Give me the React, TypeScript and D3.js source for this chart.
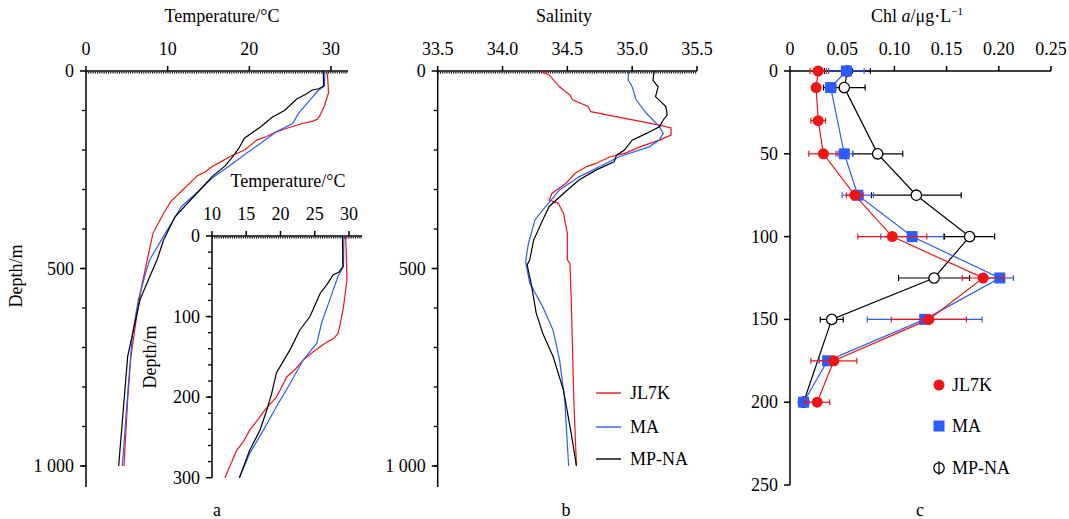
import React from "react";
import * as d3 from "d3";

// ---------- Data ----------
const seriesNames = ["JL7K", "MA", "MP-NA"];
const seriesColors = ["#f01414", "#2a5cff", "#000000"];

// Temperature profiles: [depth m, temperature °C]
const tempJL7K: [number, number][] = [
  [0, 29.5], [20, 29.6], [55, 29.7], [88, 29.2], [110, 28.7], [121, 28.4], [127, 27.8],
  [133, 26.5], [145, 24.6], [154, 23.3], [166, 22.1], [175, 20.9], [192, 19.9], [200, 19.4],
  [216, 17.7], [230, 16.5], [241, 15.5], [255, 14.6], [266, 13.6], [280, 12.9], [300, 11.9],
  [330, 10.4], [360, 9.5], [411, 8.2], [478, 7.5], [546, 6.8], [622, 6.2], [723, 5.5],
  [833, 5.1], [1000, 4.65],
];
const tempMA: [number, number][] = [
  [0, 29.25], [38, 29.2], [50, 28.4], [79, 27.2], [108, 26.0], [133, 25.3], [154, 23.3],
  [183, 21.4], [212, 19.4], [241, 17.5], [270, 15.5], [300, 14.0], [343, 11.7], [411, 9.7],
  [478, 7.8], [504, 7.4], [580, 6.4], [664, 5.7], [791, 5.2], [1000, 4.45],
];
const tempMPNA: [number, number][] = [
  [0, 29.05], [38, 29.1], [45, 28.5], [48, 27.7], [60, 26.8], [71, 25.8], [100, 24.3],
  [117, 22.8], [141, 21.4], [170, 19.4], [196, 18.7], [216, 18.0], [241, 17.0], [266, 15.5],
  [300, 14.0], [369, 10.9], [428, 9.5], [478, 8.7], [521, 7.8], [580, 6.6], [723, 5.1],
  [1000, 4.0],
];

// Salinity profiles: [depth m, salinity]
const salJL7K: [number, number][] = [
  [0, 34.29], [10, 34.36], [40, 34.44], [61, 34.52], [73, 34.54], [90, 34.66], [103, 34.68],
  [137, 35.21], [144, 35.3], [162, 35.3], [175, 35.21], [192, 35.06], [208, 34.95],
  [217, 34.83], [234, 34.72], [242, 34.65], [259, 34.56], [284, 34.49], [310, 34.38],
  [327, 34.36], [335, 34.43], [360, 34.47], [411, 34.5], [478, 34.5], [487, 34.52],
  [580, 34.53], [706, 34.54], [833, 34.55], [1000, 34.57],
];
const salMA: [number, number][] = [
  [0, 34.97], [23, 34.97], [40, 35.0], [73, 35.03], [107, 35.11], [141, 35.21], [158, 35.24],
  [175, 35.21], [192, 35.13], [217, 34.9], [242, 34.75], [268, 34.59], [301, 34.44],
  [352, 34.31], [377, 34.25], [436, 34.2], [478, 34.18], [487, 34.18], [537, 34.21],
  [597, 34.31], [656, 34.39], [732, 34.44], [833, 34.48], [1000, 34.51],
];
const salMPNA: [number, number][] = [
  [0, 35.17], [23, 35.16], [40, 35.2], [65, 35.18], [90, 35.26], [111, 35.27], [124, 35.24],
  [141, 35.21], [158, 35.11], [175, 35.0], [200, 34.94], [213, 34.88], [230, 34.86],
  [251, 34.72], [276, 34.59], [310, 34.47], [343, 34.36], [377, 34.31], [428, 34.24],
  [478, 34.21], [491, 34.19], [537, 34.22], [613, 34.26], [664, 34.31], [723, 34.39],
  [808, 34.47], [918, 34.53], [1000, 34.57],
];

// Chl a profiles
const chlDepthJL7K = [0, 10, 30, 50, 75, 100, 125, 150, 175, 200];
const chlJL7K = [0.027, 0.025, 0.027, 0.032, 0.062, 0.098, 0.185, 0.133, 0.042, 0.026];
const chlErrJL7K = [0.008, 0.003, 0.007, 0.014, 0.008, 0.033, 0.02, 0.036, 0.022, 0.012];
const chlDepthMA = [0, 10, 50, 75, 100, 125, 150, 175, 200];
const chlMA = [0.054, 0.039, 0.052, 0.065, 0.117, 0.201, 0.129, 0.036, 0.013];
const chlErrMA = [0.017, 0.005, 0.008, 0.015, 0.03, 0.013, 0.055, 0.008, 0.005];
const chlDepthMPNA = [0, 10, 50, 75, 100, 125, 150, 200];
const chlMPNA = [0.055, 0.052, 0.084, 0.121, 0.172, 0.138, 0.04, 0.013];
const chlErrMPNA = [0.022, 0.02, 0.024, 0.043, 0.024, 0.034, 0.011, 0.003];

const tempTicks = [0, 10, 20, 30];
const insetTempTicks = [10, 15, 20, 25, 30];
const salTicks = [33.5, 34.0, 34.5, 35.0, 35.5];
const chlTicks = [0, 0.05, 0.1, 0.15, 0.2, 0.25];
const depthTicks = [0, 500, 1000];
const insetDepthTicks = [0, 100, 200, 300];
const chlDepthTicks = [0, 50, 100, 150, 200, 250];

// ---------- Layout ----------
const W = 1069;
const H = 519;
const FONT = "'Liberation Serif', 'Times New Roman', serif";
const FS = 18;

const fmtDepth = (d: number) => (d >= 1000 ? "1 000" : String(d));

function TopAxis({ scale, ticks, y, x0, x1, fmt, dotted }: any) {
  return (
    <g>
      <line x1={x0} x2={x1} y1={y} y2={y} stroke="#000" strokeWidth={1.5} />
      {dotted && (
        <line x1={x0} x2={x1} y1={y + 1.6} y2={y + 1.6} stroke="#000" strokeWidth={1.6} strokeDasharray="1.1 1.1" />
      )}
      {ticks.map((t: number) => (
        <g key={t}>
          <line x1={scale(t)} x2={scale(t)} y1={y} y2={y - 5} stroke="#000" strokeWidth={1.5} />
          <text x={scale(t)} y={y - 16} textAnchor="middle" fontSize={FS} fontFamily={FONT}>
            {fmt(t)}
          </text>
        </g>
      ))}
    </g>
  );
}

function LeftAxis({ scale, ticks, minor, x, y0, y1, fmt }: any) {
  return (
    <g>
      <line x1={x} x2={x} y1={y0} y2={y1} stroke="#000" strokeWidth={1.5} />
      {minor.map((t: number) => (
        <line key={"m" + t} x1={x} x2={x - 4} y1={scale(t)} y2={scale(t)} stroke="#000" strokeWidth={1.3} />
      ))}
      {ticks.map((t: number) => (
        <g key={t}>
          <line x1={x} x2={x - 6} y1={scale(t)} y2={scale(t)} stroke="#000" strokeWidth={1.5} />
          <text x={x - 12} y={scale(t)} textAnchor="end" dominantBaseline="central" fontSize={FS} fontFamily={FONT}>
            {fmt(t)}
          </text>
        </g>
      ))}
    </g>
  );
}

export default function App() {
  // Panel a
  const xA = d3.scaleLinear().domain([0, 30]).range([86, 331]);
  const yA = d3.scaleLinear().domain([0, 1000]).range([71, 466]);
  // Inset
  const xI = d3.scaleLinear().domain([10, 30]).range([212, 349]);
  const yI = d3.scaleLinear().domain([0, 300]).range([236, 477.7]);
  // Panel b
  const xB = d3.scaleLinear().domain([33.5, 35.5]).range([437.7, 697]);
  const yB = yA;
  // Panel c
  const xC = d3.scaleLinear().domain([0, 0.25]).range([790, 1051]);
  const yC = d3.scaleLinear().domain([0, 250]).range([71, 485]);

  const temps = [tempJL7K, tempMA, tempMPNA];
  const sals = [salJL7K, salMA, salMPNA];

  const lineA = d3.line<[number, number]>().x((d) => xA(d[1])).y((d) => yA(d[0]));
  const lineI = d3.line<[number, number]>().x((d) => xI(d[1])).y((d) => yI(d[0]));
  const lineB = d3.line<[number, number]>().x((d) => xB(d[1])).y((d) => yB(d[0]));

  const minorA = d3.range(100, 1001, 100);
  const minorI = d3.range(20, 300, 20);

  const chlSets = [
    { depth: chlDepthMPNA, val: chlMPNA, err: chlErrMPNA, color: seriesColors[2], kind: "open" },
    { depth: chlDepthMA, val: chlMA, err: chlErrMA, color: seriesColors[1], kind: "square" },
    { depth: chlDepthJL7K, val: chlJL7K, err: chlErrJL7K, color: seriesColors[0], kind: "circle" },
  ];

  const marker = (kind: string, color: string, cx: number, cy: number, key?: any) => {
    if (kind === "circle") return <circle key={key} cx={cx} cy={cy} r={5.5} fill={color} />;
    if (kind === "square") return <rect key={key} x={cx - 5.5} y={cy - 5.5} width={11} height={11} fill={color} />;
    return <circle key={key} cx={cx} cy={cy} r={5.2} fill="#fff" stroke={color} strokeWidth={1.3} />;
  };

  const order = [0, 1, 2];

  return (
    <svg width={W} height={H} style={{ position: "absolute", left: 0, top: 0, background: "#fff" }} fontFamily={FONT}>
      <defs>
        <clipPath id="insetClip">
          <rect x={212} y={236} width={150} height={242} />
        </clipPath>
      </defs>

      {/* ---------- Panel a ---------- */}
      <text x={222} y={22} textAnchor="middle" fontSize={FS}>Temperature/°C</text>
      <TopAxis scale={xA} ticks={tempTicks} y={71} x0={86} x1={348} fmt={(t: number) => String(t)} dotted />
      <LeftAxis scale={yA} ticks={depthTicks} minor={minorA} x={86} y0={71} y1={487} fmt={fmtDepth} />
      <text transform="translate(22,276) rotate(-90)" textAnchor="middle" fontSize={FS}>Depth/m</text>
      {order.map((i) => (
        <path key={"ta" + i} d={lineA(temps[i]) || ""} fill="none" stroke={seriesColors[i]} strokeWidth={1.2} />
      ))}

      {/* inset */}
      <text x={288} y={187} textAnchor="middle" fontSize={FS}>Temperature/°C</text>
      <TopAxis scale={xI} ticks={insetTempTicks} y={236} x0={212} x1={362} fmt={(t: number) => String(t)} dotted />
      <LeftAxis scale={yI} ticks={insetDepthTicks} minor={minorI} x={212} y0={236} y1={478} fmt={fmtDepth} />
      <text transform="translate(156,357) rotate(-90)" textAnchor="middle" fontSize={FS}>Depth/m</text>
      <g clipPath="url(#insetClip)">
        {order.map((i) => (
          <path key={"ti" + i} d={lineI(temps[i].filter((d) => d[0] <= 330)) || ""} fill="none" stroke={seriesColors[i]} strokeWidth={1.2} />
        ))}
      </g>
      <text x={217} y={516} textAnchor="middle" fontSize={FS}>a</text>

      {/* ---------- Panel b ---------- */}
      <text x={564} y={22} textAnchor="middle" fontSize={FS}>Salinity</text>
      <TopAxis scale={xB} ticks={salTicks} y={71} x0={437.7} x1={697} fmt={d3.format(".1f")} dotted />
      <LeftAxis scale={yB} ticks={depthTicks} minor={minorA} x={437.7} y0={71} y1={487} fmt={fmtDepth} />
      {order.map((i) => (
        <path key={"sb" + i} d={lineB(sals[i]) || ""} fill="none" stroke={seriesColors[i]} strokeWidth={1.2} />
      ))}
      {seriesNames.map((n, i) => {
        const ly = [393, 427, 459][i];
        return (
          <g key={n}>
            <line x1={596} x2={621} y1={ly} y2={ly} stroke={seriesColors[i]} strokeWidth={1.4} />
            <text x={630} y={ly} dominantBaseline="central" fontSize={FS}>{n}</text>
          </g>
        );
      })}
      <text x={566} y={516} textAnchor="middle" fontSize={FS}>b</text>

      {/* ---------- Panel c ---------- */}
      <text x={917} y={22} textAnchor="middle" fontSize={FS}>
        Chl <tspan fontStyle="italic">a</tspan>/μg·L<tspan fontSize={11} dy={-7}>−1</tspan>
      </text>
      <TopAxis scale={xC} ticks={chlTicks} y={71} x0={790} x1={1051} fmt={(t: number) => (t === 0 ? "0" : d3.format(".2f")(t))} />
      <LeftAxis scale={yC} ticks={chlDepthTicks} minor={[]} x={790} y0={71} y1={485} fmt={fmtDepth} />
      {chlSets.map((s, si) => {
        const pts: [number, number][] = s.depth.map((d, j) => [d, s.val[j]]);
        const ln = d3.line<[number, number]>().x((p) => xC(p[1])).y((p) => yC(p[0]));
        return (
          <g key={"c" + si}>
            <path d={ln(pts) || ""} fill="none" stroke={s.color} strokeWidth={1.2} />
            {s.depth.map((d, j) => {
              const y = yC(d);
              const xl = xC(s.val[j] - s.err[j]);
              const xr = xC(s.val[j] + s.err[j]);
              return (
                <g key={j}>
                  <line x1={xl} x2={xr} y1={y} y2={y} stroke={s.color} strokeWidth={1.2} />
                  <line x1={xl} x2={xl} y1={y - 3} y2={y + 3} stroke={s.color} strokeWidth={1.2} />
                  <line x1={xr} x2={xr} y1={y - 3} y2={y + 3} stroke={s.color} strokeWidth={1.2} />
                </g>
              );
            })}
            {s.depth.map((d, j) => marker(s.kind, s.color, xC(s.val[j]), yC(d), "m" + j))}
          </g>
        );
      })}
      {seriesNames.map((n, i) => {
        const ly = [385, 426, 468][i];
        const kind = ["circle", "square", "open"][i];
        return (
          <g key={"lc" + n}>
            {marker(kind, seriesColors[i], 939, ly)}
            {kind === "open" && <line x1={939} x2={939} y1={ly - 7} y2={ly + 7} stroke="#000" strokeWidth={1.2} />}
            <text x={952} y={ly} dominantBaseline="central" fontSize={FS}>{n}</text>
          </g>
        );
      })}
      <text x={920} y={516} textAnchor="middle" fontSize={FS}>c</text>
    </svg>
  );
}
